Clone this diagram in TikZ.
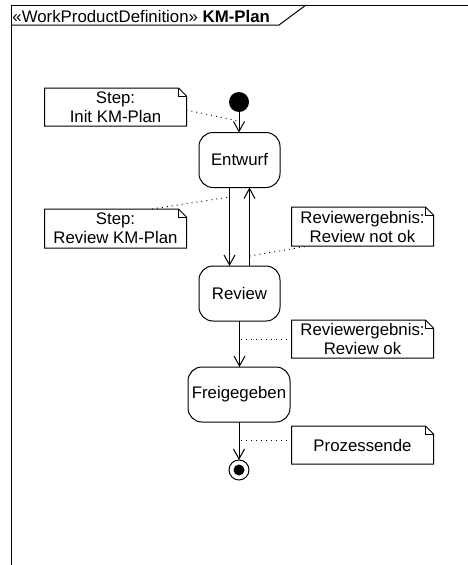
\documentclass[tikz,border=0pt]{standalone}
\usepackage{fontspec}
\setmainfont{Liberation Sans}
\usetikzlibrary{arrows.meta}
\begin{document}
\begin{tikzpicture}[x=1pt,y=-1pt, line width=1pt,
  every node/.style={font=\fontsize{16.8}{19}\selectfont, inner sep=0pt, outer sep=0pt},
  state/.style={draw, rounded corners=14pt, minimum height=55pt, align=center},
  notebox/.style={minimum height=38pt, minimum width=142pt, align=center},
  flow/.style={-{Straight Barb[length=10pt,width=11pt]}},
  anchorline/.style={line width=0.9pt, dash pattern=on 1pt off 4pt}
]
\useasboundingbox (0,0) rectangle (468,565);
\fill[white] (0,0) rectangle (468,565);

% frame
\draw (11,570) -- (11,5) -- (475,5);
\draw (11,25) -- (279,25) -- (306,5);
\node[anchor=base west] (hdr) at (12.5,22) {«WorkProductDefinition» \textbf{KM-Plan}};

% states
\node[circle, fill, minimum size=20pt] (init) at (239,102) {};
\node[state, minimum width=81pt] (entwurf) at (239.5,160) {Entwurf};
\node[state, minimum width=81pt] (review) at (239.5,293.5) {Review};
\node[state, minimum width=102pt] (freig) at (239,394.5) {Freigegeben};
\node[circle, draw, minimum size=20pt] (endnode) at (239,470) {};
\node[circle, fill, minimum size=11pt] (enddot) at (endnode.center) {};

% transitions
\draw[flow] (init.south) -- (init.south |- entwurf.north);
\draw[flow] ([xshift=-10pt]entwurf.south) -- ([xshift=-10pt]review.north);
\draw[flow] ([xshift=10pt]review.north) -- ([xshift=10pt]entwurf.south);
\draw[flow] (review.south) -- (review.south |- freig.north);
\draw[flow] (freig.south) -- (endnode.north);

% notes
\node[notebox] (n1) at (115.5,107) {Step:\\Init KM-Plan};
\node[notebox, minimum height=39pt] (n2) at (115.5,228.5) {Step:\\Review KM-Plan};
\node[notebox, minimum height=39pt] (n3) at (362.5,226.5) {Reviewergebnis:\\Review not ok};
\node[notebox] (n4) at (362.5,339) {Reviewergebnis:\\Review ok};
\node[notebox] (n5) at (362.5,445) {Prozessende};

\foreach \n in {n1,n2,n3,n4,n5}{
  \draw (\n.south west) -- (\n.south east) -- ([yshift=-8pt]\n.north east)
     -- ([xshift=-8pt]\n.north east) -- (\n.north west) -- cycle;
  \draw ([xshift=-8pt]\n.north east) -- ([xshift=-8pt,yshift=-8pt]\n.north east)
     -- ([yshift=-8pt]\n.north east);
}

% note anchors
\coordinate (a1) at (239,121);
\coordinate (a2) at (229.5,197);
\coordinate (a3) at (249.5,256);
\coordinate (a4) at (239.5,339);
\coordinate (a5) at (239,440);
\draw[anchorline] ([yshift=-3pt]n1.east) -- (a1);
\draw[anchorline] ([xshift=36.5pt]n2.north) -- (a2);
\draw[anchorline] (a3) -- ([xshift=-53.5pt]n3.south);
\draw[anchorline] (n4.west) -- (a4);
\draw[anchorline] ([yshift=5pt]n5.west) -- (a5);
\end{tikzpicture}
\end{document}
